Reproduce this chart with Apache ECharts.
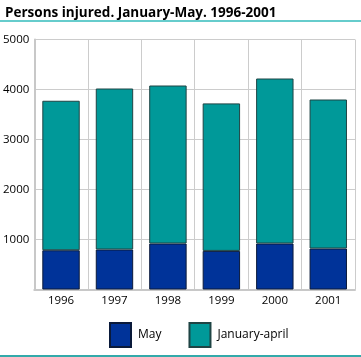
<!DOCTYPE html>
<html><head><meta charset="utf-8">
<script src="https://cdn.jsdelivr.net/npm/echarts@6/dist/echarts.min.js"></script>
<style>html,body{margin:0;padding:0;background:#fff}#c{width:361px;height:357px}</style>
</head><body><div id="c"></div>
<script>
const categories = ['1996','1997','1998','1999','2000','2001'];
const may = [785, 800, 920, 772, 920, 820];
const janApril = [2990, 3220, 3160, 2950, 3300, 2980];
const yTicks = [0, 1000, 2000, 3000, 4000, 5000];
const seriesNames = ['May', 'January-april'];

const chart = echarts.init(document.getElementById('c'));
const font = 'Open Sans, Noto Sans, sans-serif';
chart.setOption({
  animation: false,
  textStyle: { fontFamily: font },
  title: {
    text: 'Persons injured. January-May. 1996-2001',
    left: 0, top: 1,
    textStyle: { fontSize: 13.5, fontWeight: 'bold', color: '#000', fontFamily: font }
  },
  graphic: [
    { type: 'line', shape: { x1: 0, y1: 21, x2: 361, y2: 21 }, style: { stroke: '#66cccc', lineWidth: 2 } },
    { type: 'line', shape: { x1: 0, y1: 356, x2: 361, y2: 356 }, style: { stroke: '#33aaaa', lineWidth: 2 } }
  ],
  legend: {
    data: seriesNames,
    left: 104, top: 317,
    itemWidth: 21, itemHeight: 24, itemGap: 27,
    textStyle: { fontSize: 12, color: '#000', padding: [0, 0, 0, 2] },
    icon: 'rect'
  },
  grid: { left: 33, right: 6, top: 39.5, bottom: 67.5 },
  xAxis: {
    type: 'category', data: categories,
    axisLine: { lineStyle: { color: '#c8c8c8', width: 2 } },
    axisTick: { show: false },
    axisLabel: { fontSize: 11.5, color: '#000', margin: 5 },
    splitLine: { show: true, lineStyle: { color: '#cccccc', width: 1 } }
  },
  yAxis: {
    type: 'value', min: yTicks[0], max: yTicks[yTicks.length - 1], interval: 1000,
    axisLine: { show: true, lineStyle: { color: '#c8c8c8', width: 2 } },
    axisTick: { show: false },
    axisLabel: { fontSize: 11.5, color: '#000', margin: 5, formatter: v => v === 0 ? '' : String(v) },
    splitLine: { show: true, lineStyle: { color: '#cccccc', width: 1 } }
  },
  series: [
    { name: seriesNames[0], type: 'bar', stack: 't', data: may, barWidth: '70%',
      itemStyle: { color: '#003399', borderColor: '#0a1a3a', borderWidth: 1 } },
    { name: seriesNames[1], type: 'bar', stack: 't', data: janApril, barWidth: '70%',
      itemStyle: { color: '#009999', borderColor: '#1f4444', borderWidth: 1 } }
  ]
});
</script></body></html>
